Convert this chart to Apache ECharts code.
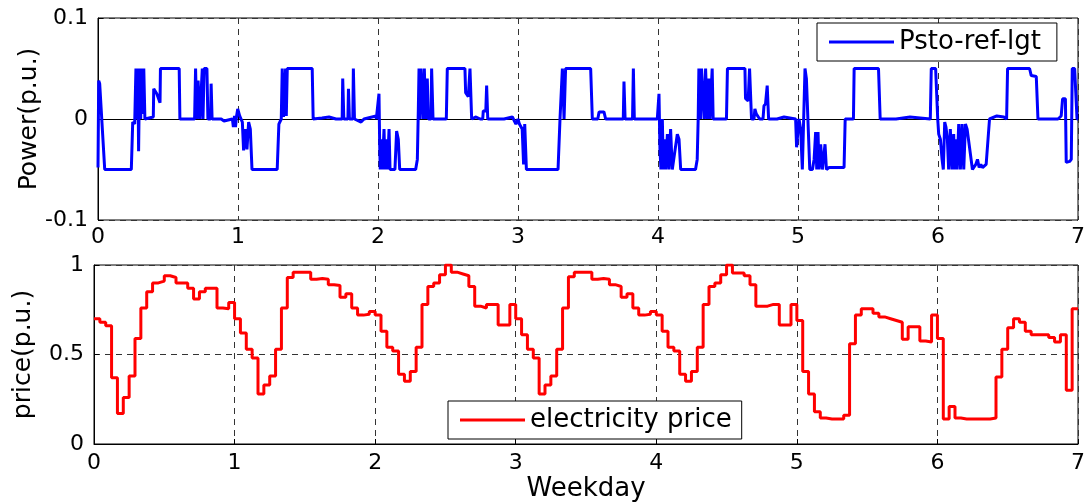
<!DOCTYPE html>
<html>
<head>
<meta charset="utf-8">
<script src="https://cdn.jsdelivr.net/npm/echarts@6/dist/echarts.min.js"></script>
<style>
  html, body { margin: 0; padding: 0; background: #fff; }
  #chart { width: 1090px; height: 503px; }
</style>
</head>
<body>
<div id="chart"></div>
<script>
// weekday axis ticks
var dayTicks = [0, 1, 2, 3, 4, 5, 6, 7];

// storage power reference (p.u.) as [weekday, value]
var powerTrace = [
  [0,-0.048],[0.005,0.038],[0.012,0.035],[0.048,-0.05],[0.238,-0.05],[0.248,-0.003],[0.262,-0.005],[0.271,0.05],[0.278,0.0],[0.285,0.05],[0.290,-0.032],[0.297,0.05],[0.305,0.0],[0.310,0.05],[0.318,0.005],[0.327,0.05],[0.335,0.0],[0.395,0.002],[0.398,0.03],[0.420,0.025],[0.443,0.016],[0.446,0.05],[0.580,0.05],[0.585,0.0],[0.690,0.0],[0.697,0.05],[0.705,0.0],[0.715,0.038],[0.727,0.0],[0.745,0.05],[0.750,0.0],[0.758,0.05],[0.778,0.05],[0.785,0.0],[0.804,0.0],[0.808,0.035],[0.815,0.0],[0.880,0.0],[0.900,-0.002],[0.960,0.0],[0.967,-0.008],[0.975,0.003],[0.982,-0.008],[0.990,0.003],[0.998,0.01],
  [1.012,0.003],[1.031,-0.003],[1.040,-0.031],[1.055,-0.01],[1.064,-0.03],[1.076,-0.003],[1.088,-0.01],[1.100,-0.05],[1.280,-0.05],[1.292,-0.005],[1.309,0.0],[1.316,0.05],[1.325,0.002],[1.340,0.05],[1.345,0.003],[1.352,0.05],[1.530,0.05],[1.537,0.0],[1.600,0.001],[1.650,0.002],[1.700,0.0],[1.744,0.0],[1.748,0.04],[1.756,0.0],[1.785,0.0],[1.789,0.03],[1.796,0.0],[1.820,0.0],[1.824,0.05],[1.832,0.0],[1.879,-0.003],[1.900,0.0],[1.986,0.003],
  [1.988,0.0],[2.007,0.025],[2.012,-0.025],[2.016,-0.05],[2.021,-0.02],[2.031,-0.05],[2.043,-0.01],[2.050,-0.05],[2.060,-0.02],[2.067,-0.05],[2.079,-0.01],[2.086,-0.05],[2.121,-0.05],[2.133,-0.012],[2.145,-0.02],[2.155,-0.05],[2.269,-0.05],[2.281,-0.04],[2.288,0.009],[2.293,0.05],[2.300,0.0],[2.307,0.05],[2.317,0.05],[2.324,0.0],[2.331,0.05],[2.340,0.0],[2.348,0.0],[2.352,0.04],[2.360,0.0],[2.379,0.0],[2.383,0.05],[2.393,0.0],[2.488,0.0],[2.495,0.05],[2.621,0.05],[2.626,0.026],[2.645,0.022],[2.657,0.05],[2.669,0.0],[2.700,0.002],[2.730,0.0],[2.748,0.0],[2.752,0.008],[2.770,0.008],[2.776,0.033],[2.784,0.0],[2.900,0.0],[2.960,0.002],[2.985,-0.005],
  [3.000,0.0],[3.010,-0.005],[3.030,-0.01],[3.040,-0.045],[3.048,-0.005],[3.060,-0.05],[3.286,-0.05],[3.300,0.0],[3.310,0.0],[3.317,0.05],[3.329,0.0],[3.340,0.05],[3.519,0.05],[3.531,0.0],[3.570,0.0],[3.579,0.007],[3.614,0.007],[3.626,0.0],[3.752,0.0],[3.757,0.037],[3.765,0.0],[3.818,0.0],[3.824,0.05],[3.831,0.0],[3.995,0.0],
  [4.007,0.025],[4.014,-0.03],[4.021,-0.05],[4.031,0.0],[4.038,-0.05],[4.048,-0.02],[4.055,-0.05],[4.067,-0.015],[4.078,-0.05],[4.090,-0.01],[4.102,-0.05],[4.138,-0.015],[4.150,-0.02],[4.162,-0.05],[4.268,-0.05],[4.280,-0.04],[4.287,0.0],[4.292,0.05],[4.304,0.0],[4.311,0.05],[4.320,0.05],[4.330,0.0],[4.340,0.05],[4.352,0.0],[4.363,0.04],[4.371,0.0],[4.387,0.05],[4.394,0.0],[4.489,0.0],[4.496,0.05],[4.621,0.05],[4.625,0.0205],[4.644,0.018],[4.654,0.05],[4.660,0.05],[4.668,0.0],[4.686,0.0],[4.692,0.01],[4.702,0.005],[4.716,0.006],[4.726,0.0],[4.750,0.0],[4.757,0.013],[4.768,0.015],[4.780,0.033],[4.790,0.0],[4.850,0.0],[4.900,0.002],[4.983,0.0],
  [4.990,-0.028],[5.007,0.0],[5.019,-0.01],[5.031,-0.05],[5.050,0.05],[5.060,0.04],[5.084,-0.05],[5.103,-0.05],[5.115,-0.04],[5.126,-0.013],[5.134,-0.05],[5.143,-0.013],[5.150,-0.05],[5.162,-0.025],[5.174,-0.05],[5.193,-0.025],[5.203,-0.05],[5.222,-0.048],[5.329,-0.048],[5.337,0.0],[5.396,0.0],[5.401,0.05],[5.575,0.05],[5.587,0.0],[5.700,0.0],[5.800,0.002],[5.945,0.0],[5.952,0.05],[5.983,0.05],[5.998,0.0],
  [6.005,-0.015],[6.017,-0.02],[6.029,-0.04],[6.038,-0.05],[6.048,-0.003],[6.057,-0.008],[6.067,-0.02],[6.076,-0.05],[6.088,-0.01],[6.100,-0.05],[6.112,-0.015],[6.119,-0.05],[6.129,-0.02],[6.136,-0.05],[6.148,-0.005],[6.160,-0.05],[6.172,-0.005],[6.184,-0.05],[6.196,-0.005],[6.208,-0.01],[6.220,-0.01],[6.246,-0.05],[6.270,-0.045],[6.282,-0.04],[6.294,-0.048],[6.306,-0.045],[6.318,-0.048],[6.344,-0.045],[6.356,-0.045],[6.368,0.0],[6.420,0.003],[6.470,0.002],[6.490,0.0],[6.497,0.05],[6.654,0.05],[6.666,0.043],[6.702,0.042],[6.714,0.0],[6.857,0.0],[6.880,0.003],[6.890,0.02],[6.910,0.02],[6.916,-0.043],[6.940,-0.042],[6.952,-0.04],[6.959,0.05],[6.976,0.05],[6.993,0.0],[7.0,0.0]
];

// hourly electricity price (p.u.), 24 values per weekday
var priceHourly = [
  0.70,0.68,0.66,0.37,0.17,0.26,0.38,0.59,0.76,0.85,0.90,0.91,0.94,0.93,0.90,0.90,0.87,0.81,0.85,0.87,0.87,0.76,0.755,0.79,
  0.70,0.62,0.53,0.48,0.28,0.33,0.38,0.53,0.76,0.93,0.96,0.96,0.96,0.92,0.925,0.92,0.89,0.885,0.82,0.84,0.76,0.72,0.725,0.74,
  0.72,0.63,0.54,0.52,0.39,0.35,0.405,0.54,0.78,0.88,0.90,0.945,1.0,0.96,0.95,0.94,0.88,0.77,0.76,0.78,0.78,0.665,0.665,0.78,
  0.70,0.61,0.53,0.48,0.28,0.33,0.38,0.53,0.76,0.935,0.96,0.96,0.96,0.92,0.925,0.92,0.89,0.88,0.82,0.84,0.76,0.72,0.725,0.74,
  0.72,0.63,0.54,0.52,0.39,0.35,0.405,0.54,0.78,0.88,0.90,0.945,1.0,0.955,0.955,0.94,0.89,0.77,0.77,0.78,0.78,0.665,0.665,0.78,
  0.69,0.405,0.28,0.18,0.145,0.14,0.14,0.14,0.16,0.56,0.72,0.755,0.755,0.73,0.71,0.70,0.69,0.68,0.585,0.655,0.655,0.575,0.57,0.72,
  0.59,0.14,0.21,0.145,0.14,0.14,0.14,0.14,0.14,0.145,0.375,0.53,0.65,0.70,0.68,0.63,0.61,0.61,0.61,0.595,0.57,0.61,0.30,0.755
];

var powerTicks = [-0.1, 0, 0.1];
var priceTicks = [0, 0.5, 1];

var FONT = 'DejaVu Sans';

// price points: each hour holds its value until the next hour
var pricePts = priceHourly.map(function (v, i) { return [i / 24, v]; });
pricePts.push([7, priceHourly[priceHourly.length - 1]]);

var myChart = echarts.init(document.getElementById('chart'), null, { renderer: 'canvas' });

function xAx(gridIndex, withName) {
  var ax = {
    type: 'value', gridIndex: gridIndex,
    min: dayTicks[0], max: dayTicks[dayTicks.length - 1], interval: 1,
    axisLine: { show: true, lineStyle: { color: '#000', width: 1 } },
    axisTick: { show: true, inside: true, length: 5, lineStyle: { color: '#000' } },
    axisLabel: { color: '#000', fontSize: 22, fontFamily: FONT, margin: gridIndex === 0 ? 6 : 8 },
    splitLine: { show: true, lineStyle: { color: '#333', type: [6, 5], width: 1 } }
  };
  if (withName) {
    ax.name = 'Weekday';
    ax.nameLocation = 'middle';
    ax.nameGap = 32;
    ax.nameMoveOverlap = false;
    ax.nameTextStyle = { color: '#000', fontSize: 26, fontFamily: FONT };
  }
  return ax;
}

function yAx(gridIndex, ticks, name, gap) {
  return {
    type: 'value', gridIndex: gridIndex,
    min: ticks[0], max: ticks[ticks.length - 1], interval: ticks[1] - ticks[0],
    name: name, nameLocation: 'middle', nameGap: gap, nameRotate: 90,
    nameMoveOverlap: false,
    nameTextStyle: { color: '#000', fontSize: 25, fontFamily: FONT },
    axisLine: { show: true, lineStyle: { color: '#000', width: 1 } },
    axisTick: { show: true, inside: true, length: 5, lineStyle: { color: '#000' } },
    axisLabel: { color: '#000', fontSize: 22, fontFamily: FONT, margin: 10 },
    splitLine: { show: true, lineStyle: { color: '#333', type: [6, 5], width: 1 } }
  };
}

var legendBase = {
  orient: 'horizontal',
  backgroundColor: '#fff',
  borderColor: '#000',
  borderWidth: 1,
  borderRadius: 0,
  icon: 'rect',
  itemWidth: 65,
  itemHeight: 3,
  textStyle: { color: '#000', fontSize: 26, fontFamily: FONT }
};

var option = {
  animation: false,
  backgroundColor: '#fff',
  grid: [
    { left: 98, top: 18, width: 980, height: 202, show: true, borderColor: '#000', borderWidth: 1, backgroundColor: 'transparent' },
    { left: 94, top: 265, width: 984, height: 181, show: true, borderColor: '#000', borderWidth: 1, backgroundColor: 'transparent' }
  ],
  legend: [
    Object.assign({}, legendBase, { data: ['Psto-ref-lgt'], left: 817, top: 23, padding: [6, 16, 6, 12] }),
    Object.assign({}, legendBase, { data: ['electricity price'], left: 448, top: 401, padding: [6, 10, 6, 12] })
  ],
  xAxis: [xAx(0, false), xAx(1, true)],
  yAxis: [yAx(0, powerTicks, 'Power(p.u.)', 56), yAx(1, priceTicks, 'price(p.u.)', 58)],
  series: [
    {
      name: 'Psto-ref-lgt', type: 'line', xAxisIndex: 0, yAxisIndex: 0,
      data: powerTrace, symbol: 'none', showSymbol: false,
      lineStyle: { color: '#0000ff', width: 3 }, itemStyle: { color: '#0000ff' }
    },
    {
      name: 'electricity price', type: 'line', xAxisIndex: 1, yAxisIndex: 1,
      data: pricePts, step: 'end', symbol: 'none', showSymbol: false,
      lineStyle: { color: '#ff0000', width: 3 }, itemStyle: { color: '#ff0000' }
    }
  ]
};

if (option && typeof option === 'object') {
  myChart.setOption(option, true);
}
</script>
</body>
</html>
